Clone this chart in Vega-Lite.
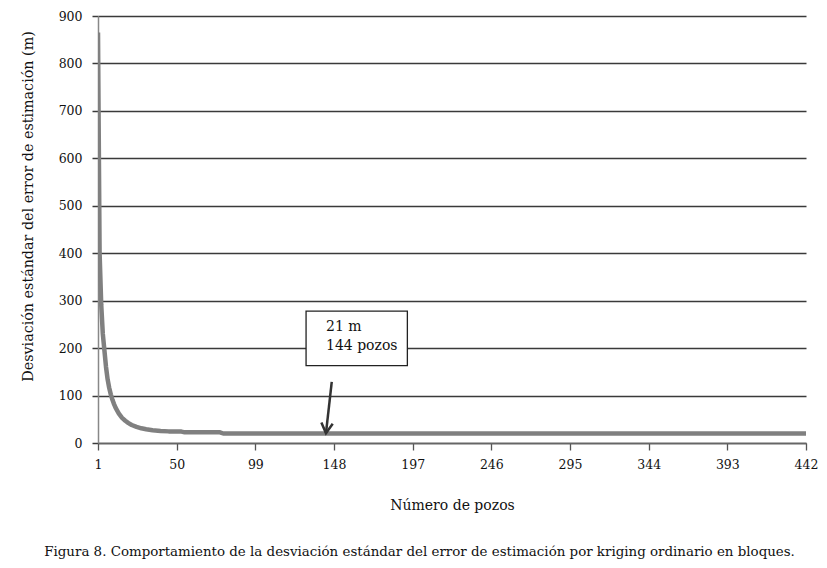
{
  "$schema": "https://vega.github.io/schema/vega-lite/v6.json",
  "width": 708,
  "height": 427,
  "autosize": {"type": "none"},
  "padding": {"left": 98, "top": 16, "right": 21, "bottom": 125},
  "background": "white",
  "config": {
    "view": {"stroke": null},
    "font": "DejaVu Serif",
    "axis": {"labelFont": "DejaVu Serif", "titleFont": "DejaVu Serif", "labelColor": "#111", "titleColor": "#111", "titleFontWeight": "normal"},
    "axisX": {
      "titleFontSize": 14, "titlePadding": 28,
      "labelFontSize": 12.5, "labelPadding": 8, "labelFlush": false,
      "grid": false, "domainColor": "#666", "domainWidth": 1.5,
      "tickColor": "#555", "tickSize": 7, "tickWidth": 1.3
    },
    "axisY": {
      "titleFontSize": 14.3, "titlePadding": 23, "titleY": 190,
      "labelFontSize": 12.5, "labelPadding": 10,
      "grid": true, "gridColor": "#3a3a3a", "gridWidth": 1.5, "gridOpacity": 1,
      "domainColor": "#888", "domainWidth": 1.5,
      "tickColor": "#3a3a3a", "tickSize": 6, "tickWidth": 1.5
    }
  },
  "title": {
    "text": "Figura 8. Comportamiento de la desviación estándar del error de estimación por kriging ordinario en bloques.",
    "orient": "bottom",
    "anchor": "middle",
    "frame": "bounds",
    "font": "DejaVu Serif",
    "fontSize": 13.4,
    "fontWeight": "normal",
    "color": "#111",
    "offset": 32
  },
  "layer": [
    {
      "data": {"values": [
        {"n": 1, "v": 865}, {"n": 2, "v": 400}, {"n": 3, "v": 292}, {"n": 4, "v": 230},
        {"n": 5, "v": 195}, {"n": 6, "v": 160}, {"n": 7, "v": 134}, {"n": 8, "v": 116},
        {"n": 9, "v": 102}, {"n": 10, "v": 91}, {"n": 11, "v": 82}, {"n": 12, "v": 74},
        {"n": 14, "v": 62}, {"n": 16, "v": 53}, {"n": 18, "v": 47}, {"n": 20, "v": 42},
        {"n": 22, "v": 38}, {"n": 25, "v": 34}, {"n": 28, "v": 31}, {"n": 31, "v": 29},
        {"n": 35, "v": 27}, {"n": 40, "v": 25.5}, {"n": 45, "v": 24.5}, {"n": 53, "v": 24},
        {"n": 55, "v": 22.5}, {"n": 77, "v": 22.5}, {"n": 79, "v": 20}, {"n": 442, "v": 20}
      ]},
      "mark": {"type": "line", "color": "#808080", "strokeWidth": 4.5, "strokeJoin": "round", "clip": true},
      "encoding": {
        "x": {
          "field": "n", "type": "quantitative", "title": "Número de pozos",
          "scale": {"domain": [1, 442], "nice": false, "zero": false},
          "axis": {"values": [1, 50, 99, 148, 197, 246, 295, 344, 393, 442]}
        },
        "y": {
          "field": "v", "type": "quantitative", "title": "Desviación estándar del error de estimación (m)",
          "scale": {"domain": [0, 900], "nice": false},
          "axis": {"values": [0, 100, 200, 300, 400, 500, 600, 700, 800, 900]}
        }
      }
    },
    {
      "data": {"values": [{"x1": 130.6, "x2": 193.7, "y1": 163, "y2": 278}]},
      "mark": {"type": "rect", "fill": "white", "stroke": "#222", "strokeWidth": 1.3},
      "encoding": {
        "x": {"field": "x1", "type": "quantitative", "title": "Número de pozos"},
        "x2": {"field": "x2"},
        "y": {"field": "y1", "type": "quantitative", "title": "Desviación estándar del error de estimación (m)"},
        "y2": {"field": "y2"}
      }
    },
    {
      "data": {"values": [{"x": 143, "y": 245, "t": "21 m"}, {"x": 143, "y": 205, "t": "144 pozos"}]},
      "mark": {"type": "text", "align": "left", "baseline": "middle", "fontSize": 14, "color": "#111", "font": "DejaVu Serif"},
      "encoding": {
        "x": {"field": "x", "type": "quantitative", "title": "Número de pozos"},
        "y": {"field": "y", "type": "quantitative", "title": "Desviación estándar del error de estimación (m)"},
        "text": {"field": "t"}
      }
    },
    {
      "data": {"values": [{"x": 146.6, "y": 129, "x2": 143, "y2": 21}]},
      "mark": {"type": "rule", "color": "#333", "strokeWidth": 2.5},
      "encoding": {
        "x": {"field": "x", "type": "quantitative", "title": "Número de pozos"},
        "y": {"field": "y", "type": "quantitative", "title": "Desviación estándar del error de estimación (m)"},
        "x2": {"field": "x2"},
        "y2": {"field": "y2"}
      }
    },
    {
      "data": {"values": [{"x": 143, "y": 20.5}]},
      "mark": {"type": "point", "shape": "M -1 -1.8 L 0 0 L 1 -1.8", "size": 130, "filled": false, "stroke": "#333", "strokeWidth": 2.5, "opacity": 1, "angle": 6},
      "encoding": {
        "x": {"field": "x", "type": "quantitative", "title": "Número de pozos"},
        "y": {"field": "y", "type": "quantitative", "title": "Desviación estándar del error de estimación (m)"}
      }
    }
  ]
}
